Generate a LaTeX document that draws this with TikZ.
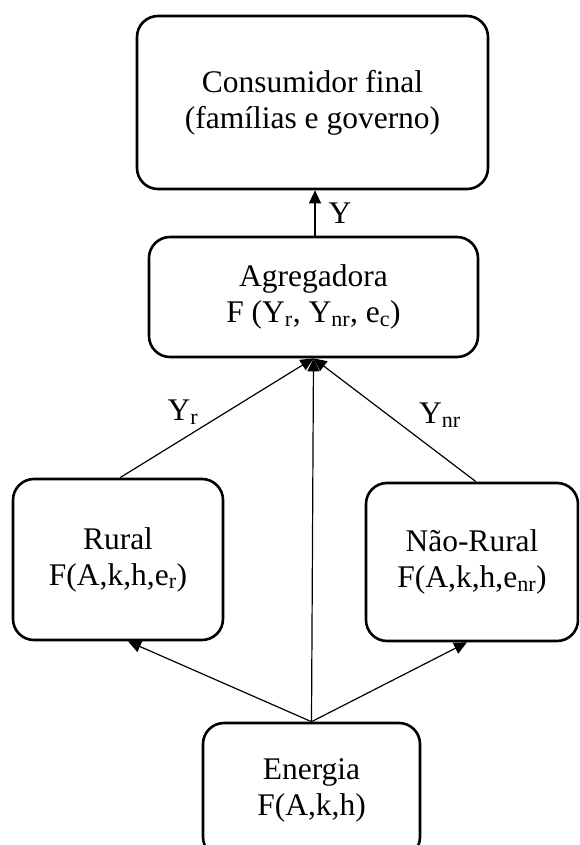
\documentclass[tikz,border=0pt]{standalone}
\usepackage{fontspec}
\setmainfont{Liberation Serif}
\usetikzlibrary{arrows.meta,calc}
\begin{document}
\begin{tikzpicture}[x=1pt,y=-1pt,
  box/.style={draw, line width=2.6pt, rounded corners=21pt, align=center, inner sep=0pt,
    font=\fontsize{31.5}{36}\selectfont},
  conn/.style={line width=1.2pt, -{Triangle[length=13pt,width=12pt]}},
  lbl/.style={font=\fontsize{31.5}{36}\selectfont, inner sep=0pt}]
\useasboundingbox (0,0) rectangle (579,845);
\clip (0,0) rectangle (579,845);
\node[box, minimum width=351pt, minimum height=173pt] (cons) at (312.5,102.5)
  {Consumidor final\\(famílias e governo)};
\node[box, minimum width=329pt, minimum height=120pt] (agg) at (313.5,297)
  {Agregadora\\F (Y\textsubscript{r}, Y\textsubscript{nr}, e\textsubscript{c})};
\node[box, minimum width=210pt, minimum height=161pt] (rural) at (118,559.5)
  {Rural\\F(A,k,h,e\textsubscript{r})};
\node[box, minimum width=212pt, minimum height=158pt] (nrural) at (472,562)
  {Não-Rural\\F(A,k,h,e\textsubscript{nr})};
\node[box, minimum width=217pt, minimum height=135pt] (energia) at (311.5,790.5)
  {Energia\\F(A,k,h)};
\draw[conn] ([xshift=1.5pt]agg.north) -- ([xshift=2.5pt]cons.south);
\draw[conn] ([xshift=2pt]rural.north) -- (agg.south);
\draw[conn] ([xshift=4pt]nrural.north) -- (agg.south);
\draw[conn] (energia.north) -- (agg.south);
\draw[conn] (energia.north) -- ([xshift=10pt]rural.south);
\draw[conn] (energia.north) -- ([xshift=-5pt]nrural.south);
\node[lbl] (ly) at (340,213) {Y};
\node[lbl] (lyr) at (183,412) {Y\textsubscript{r}};
\node[lbl] (lynr) at (440,415) {Y\textsubscript{nr}};
\end{tikzpicture}
\end{document}
